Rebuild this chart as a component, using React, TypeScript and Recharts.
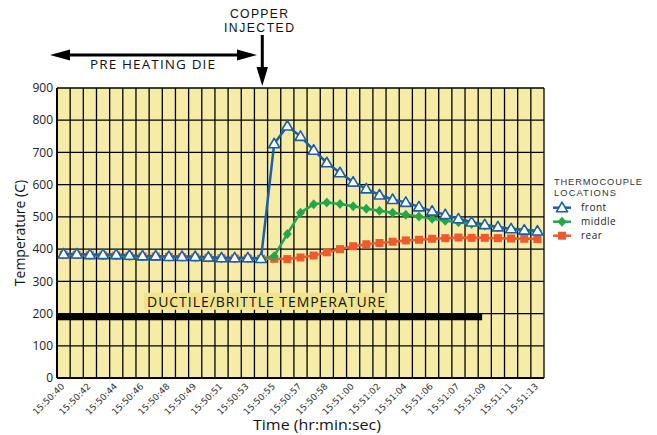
import React from 'react';
import { LineChart, Line, XAxis, YAxis, CartesianGrid, ReferenceLine } from 'recharts';

const BLUE = '#1b5fa6';
const GREEN = '#22a84a';
const RED = '#ef5a2c';
const PLOT_BG = '#f6eca8';

// sample times (every other one is labelled)
const times = [
    '15:50:40', '15:50:41', '15:50:42', '15:50:43', '15:50:44', '15:50:45', '15:50:46', '15:50:47',
    '15:50:48', '15:50:48', '15:50:49', '15:50:50', '15:50:51', '15:50:52', '15:50:53', '15:50:54',
    '15:50:55', '15:50:56', '15:50:57', '15:50:57', '15:50:58', '15:50:59', '15:51:00', '15:51:01',
    '15:51:02', '15:51:03', '15:51:04', '15:51:05', '15:51:06', '15:51:06', '15:51:07', '15:51:08',
    '15:51:09', '15:51:10', '15:51:11', '15:51:12', '15:51:13',
];

const front = [
    385, 385, 383, 383, 383, 381, 379, 379, 377, 377, 377, 375, 373, 373, 373, 371,
    727, 782, 750, 707, 668, 637, 608, 587, 568, 554, 545, 531, 518, 507, 494, 484,
    476, 469, 463, 459, 456,
];

const middle = [
    383, 383, 381, 381, 381, 379, 378, 378, 376, 376, 375, 374, 372, 372, 372, 371,
    378, 447, 513, 539, 545, 540, 533, 525, 519, 513, 507, 501, 494, 488, 483, 478,
    473, 468, 464, 460, 457,
];

const rear = [
    382, 382, 381, 380, 380, 378, 377, 377, 376, 375, 374, 373, 372, 371, 371, 370,
    370, 369, 374, 380, 390, 400, 409, 415, 419, 423, 427, 429, 432, 434, 436, 435,
    435, 434, 433, 432, 431,
];

const yTicks = [0, 100, 200, 300, 400, 500, 600, 700, 800, 900];

const DUCTILE_TEMP = 190;
const DUCTILE_END_INDEX = 32;

const data = times.map((time, i) => ({ time, front: front[i], middle: middle[i], rear: rear[i] }));

// plot is 487px wide, half a cell of padding each side centres points in cells
const HALF_CELL = 487 / times.length / 2;

const TriangleDot = (props: any) => {
    const { cx, cy, index } = props;
    if (cx == null || cy == null) return null;
    return (
        <path
            key={`t-${index}`}
            d={`M${cx},${cy - 5.5} L${cx + 5.5},${cy + 4} L${cx - 5.5},${cy + 4} Z`}
            fill="#fff"
            stroke={BLUE}
            strokeWidth={1.6}
            strokeLinejoin="round"
        />
    );
};

const DiamondDot = (props: any) => {
    const { cx, cy, index } = props;
    if (cx == null || cy == null) return null;
    return <path key={`d-${index}`} d={`M${cx},${cy - 5} L${cx + 4.5},${cy} L${cx},${cy + 5} L${cx - 4.5},${cy} Z`} fill={GREEN} />;
};

const SquareDot = (props: any) => {
    const { cx, cy, index } = props;
    if (cx == null || cy == null) return null;
    return <rect key={`s-${index}`} x={cx - 4} y={cy - 4} width={8} height={8} fill={RED} />;
};

const TimeTick = (props: any) => {
    const { x, y, payload } = props;
    return (
        <g transform={`translate(${x + 1.5},${y + 7})`}>
            <text
                x={0}
                y={0}
                textAnchor="end"
                transform="rotate(-45)"
                fontSize={9}
                fontFamily="DejaVu Sans"
                fill="#333"
            >
                {payload.value}
            </text>
        </g>
    );
};

// thick bar stops part way across the plot
const DuctileBar = (props: any) => {
    const { x1, x2, y1 } = props;
    const frac = (DUCTILE_END_INDEX + 0.3) / times.length;
    return <rect x={x1} y={y1 - 3.5} width={(x2 - x1) * frac} height={7} fill="#000" />;
};

const DuctileLabel = (props: any) => {
    const { viewBox } = props;
    const cx = viewBox.x + 209;
    const top = viewBox.y - 24;
    return (
        <g>
            <rect x={cx - 122} y={top} width={244} height={17} fill="#f1e28c" />
            <text
                x={cx}
                y={top + 14}
                textAnchor="middle"
                fontSize={14}
                fontFamily="Open Sans"
                fill="#111"
                textLength={238}
                lengthAdjust="spacing"
            >
                DUCTILE/BRITTLE TEMPERATURE
            </text>
        </g>
    );
};

const legendItems = [
    { name: 'front', dot: TriangleDot, color: BLUE },
    { name: 'middle', dot: DiamondDot, color: GREEN },
    { name: 'rear', dot: SquareDot, color: RED },
];

const Annotations = () => (
    <svg width={657} height={435} style={{ position: 'absolute', left: 0, top: 0, pointerEvents: 'none' }}>
        {/* copper injected */}
        <text x={259} y={17.8} textAnchor="middle" fontSize={12.2} fontFamily="Liberation Sans" fill="#111" textLength={58} lengthAdjust="spacing">COPPER</text>
        <text x={259} y={31.8} textAnchor="middle" fontSize={12.2} fontFamily="Liberation Sans" fill="#111" textLength={70} lengthAdjust="spacing">INJECTED</text>
        <line x1={262.3} y1={35} x2={262.3} y2={70} stroke="#000" strokeWidth={3} />
        <polygon points="256.5,67 268,67 262.3,86" fill="#000" />

        {/* pre heating die */}
        <line x1={62} y1={55} x2={245} y2={55} stroke="#000" strokeWidth={3} />
        <polygon points="50,55 70,49.5 70,60.5" fill="#000" />
        <polygon points="257,55 237,49.5 237,60.5" fill="#000" />
        <text x={152.5} y={68.5} textAnchor="middle" fontSize={13.5} fontFamily="Open Sans" fill="#111" textLength={125} lengthAdjust="spacing">PRE HEATING DIE</text>

        {/* x axis title */}
        <text x={317} y={430} textAnchor="middle" fontSize={14} fontFamily="Open Sans" fill="#111" textLength={128} lengthAdjust="spacingAndGlyphs">Time (hr:min:sec)</text>

        {/* legend */}
        <text x={554} y={184.6} fontSize={9.3} fontFamily="Liberation Sans" fill="#333" textLength={88} lengthAdjust="spacing">THERMOCOUPLE</text>
        <text x={554} y={195.6} fontSize={9.3} fontFamily="Liberation Sans" fill="#333" textLength={62} lengthAdjust="spacing">LOCATIONS</text>
        {legendItems.map((item, i) => {
            const y = 207.7 + i * 14;
            const Dot = item.dot;
            return (
                <g key={item.name}>
                    <line x1={553} y1={y} x2={571} y2={y} stroke={item.color} strokeWidth={2.5} />
                    <Dot cx={562} cy={y} index={i} />
                    <text x={581} y={y + 3.5} fontSize={10} fontFamily="Open Sans" fill="#222" letterSpacing={0.5}>{item.name}</text>
                </g>
            );
        })}
    </svg>
);

const App = () => {
    return (
        <div style={{ position: 'absolute', left: 0, top: 0, width: 657, height: 435, background: '#fff' }}>
            <LineChart width={657} height={435} data={data} margin={{ top: 88, right: 113, left: 0, bottom: 0 }}>
                <CartesianGrid
                    fill={PLOT_BG}
                    fillOpacity={1}
                    stroke="#000"
                    strokeWidth={1.3}
                    strokeOpacity={1}
                    verticalCoordinatesGenerator={({ offset }: any) =>
                        Array.from({ length: times.length + 1 }, (_, i) => offset.left + (i * offset.width) / times.length)
                    }
                />
                <XAxis
                    dataKey="time"
                    interval={1}
                    height={57}
                    padding={{ left: HALF_CELL, right: HALF_CELL }}
                    tickLine={false}
                    tickSize={0}
                    tickMargin={2}
                    axisLine={{ stroke: '#000', strokeWidth: 2 }}
                    tick={<TimeTick />}
                />
                <YAxis
                    domain={[0, 900]}
                    ticks={yTicks}
                    width={57}
                    tickLine={false}
                    tickSize={0}
                    tickMargin={4}
                    axisLine={{ stroke: '#000', strokeWidth: 2 }}
                    tick={{ fontSize: 12, fontFamily: 'Open Sans', fill: '#222' }}
                    label={{
                        value: 'Temperature (C)',
                        angle: -90,
                        position: 'insideLeft',
                        offset: 20,
                        style: { textAnchor: 'middle', fontSize: 14, fontFamily: 'Open Sans', fill: '#111' },
                    }}
                />
                <ReferenceLine y={DUCTILE_TEMP} shape={<DuctileBar />} label={<DuctileLabel />} />
                <Line dataKey="rear" stroke={RED} strokeWidth={2.5} dot={<SquareDot />} isAnimationActive={false} />
                <Line dataKey="middle" stroke={GREEN} strokeWidth={2.5} dot={<DiamondDot />} isAnimationActive={false} />
                <Line dataKey="front" stroke={BLUE} strokeWidth={2.5} dot={<TriangleDot />} isAnimationActive={false} />
            </LineChart>
            <Annotations />
        </div>
    );
};

export default App;
